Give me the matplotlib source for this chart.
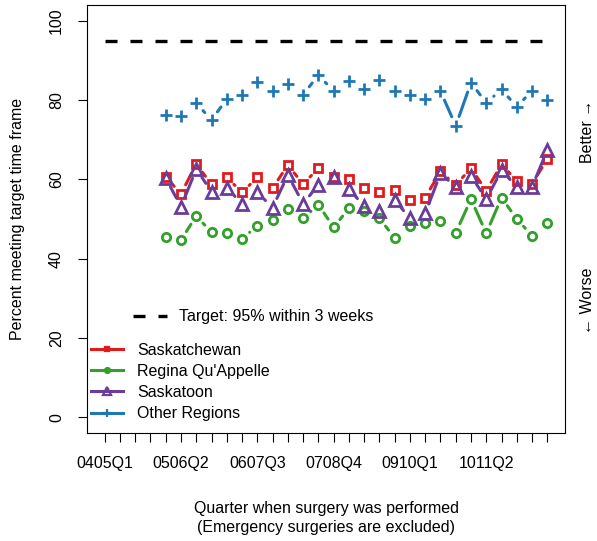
import matplotlib
matplotlib.use('Agg')
import matplotlib.pyplot as plt
import numpy as np
from matplotlib.lines import Line2D

plt.rcParams['font.family'] = ['Liberation Sans', 'DejaVu Sans']

quarters = ['0405Q1', '0405Q2', '0405Q3', '0405Q4', '0506Q1', '0506Q2',
            '0506Q3', '0506Q4', '0607Q1', '0607Q2', '0607Q3', '0607Q4',
            '0708Q1', '0708Q2', '0708Q3', '0708Q4', '0809Q1', '0809Q2',
            '0809Q3', '0809Q4', '0910Q1', '0910Q2', '0910Q3', '0910Q4',
            '1011Q1', '1011Q2', '1011Q3', '1011Q4', '1112Q1', '1112Q2']

# series start at 0506Q1
sask = [60.5, 56.4, 63.8, 58.8, 60.5, 56.7, 60.5, 57.8, 63.6, 58.8, 62.8, 60.5, 60.0,
        57.8, 56.9, 57.3, 54.8, 55.4, 62.0, 58.6, 62.8, 57.1, 63.8, 59.6, 58.9, 65.1]
regina = [45.5, 44.7, 50.8, 46.6, 46.4, 45.0, 48.3, 49.7, 52.5, 50.2, 53.6, 47.9, 52.7,
          52.1, 50.2, 45.2, 48.3, 48.9, 49.4, 46.5, 55.0, 46.4, 55.4, 50.0, 45.8, 48.9]
saskatoon = [60.3, 53.1, 62.6, 56.9, 57.8, 53.9, 56.7, 52.9, 61.1, 53.9, 58.6, 60.5, 57.5,
             53.3, 52.1, 54.8, 50.2, 51.4, 61.5, 58.1, 60.9, 55.0, 62.3, 58.1, 58.1, 67.4]
other = [76.2, 76.0, 79.2, 75.0, 80.3, 81.4, 84.6, 82.3, 84.1, 81.4, 86.3, 82.3, 84.8,
         82.9, 85.2, 82.4, 81.2, 80.4, 82.3, 73.5, 84.4, 79.3, 82.7, 78.3, 82.4, 80.1]
target = 95

series = [('Saskatchewan', sask, '#E31A1C', 's', 6.0),
          ("Regina Qu'Appelle", regina, '#33A02C', 'o', 6.0),
          ('Saskatoon', saskatoon, '#6A3D9A', '^', 8.5),
          ('Other Regions', other, '#1F78B4', '+', 9.0)]

n = len(quarters)
first = n - len(sask) + 1
x = np.arange(first, n + 1)

fig = plt.figure(figsize=(5.97, 5.41), dpi=100)
ax = fig.add_axes([87 / 597, 1 - 433 / 541, 478 / 597, 428 / 541])
ax.set_xlim(1 - 0.04 * (n - 1), n + 0.04 * (n - 1))
ax.set_ylim(-4, 104)


def draw_b(ax, x, y, color, marker, ms, gap=10.0):
    # points joined by lines that stop short of each marker
    pts = ax.transData.transform(np.column_stack([x, y]))
    inv = ax.transData.inverted()
    for p, q in zip(pts[:-1], pts[1:]):
        d = q - p
        L = np.hypot(*d)
        if L <= 2 * gap:
            continue
        u = d / L
        a, b = inv.transform([p + u * gap, q - u * gap])
        ax.plot([a[0], b[0]], [a[1], b[1]], color=color, lw=2.2,
                solid_capstyle='round')
    ax.plot(x, y, ls='none', marker=marker, ms=ms, mfc='none', mec=color, mew=2.0)


ax.plot([1, n], [target, target], color='black', lw=2.4, dashes=(3.6, 3.9),
        dash_capstyle='butt')

for name, vals, col, mk, ms in series:
    draw_b(ax, x, vals, col, mk, ms)

ax.set_yticks(range(0, 101, 20))
ax.set_xticks(range(1, n + 1))
ax.set_xticklabels([q if i % 5 == 0 else '' for i, q in enumerate(quarters)])
ax.tick_params(axis='both', length=6.5, width=0.8, labelsize=11.5)
ax.tick_params(axis='x', pad=10)
ax.tick_params(axis='y', labelrotation=90, pad=10)
for t in ax.get_yticklabels():
    t.set_va('center')
for s in ax.spines.values():
    s.set_linewidth(0.8)

ax.set_ylabel('Percent meeting target time frame', fontsize=11.5, labelpad=17)
ax.set_xlabel('Quarter when surgery was performed\n(Emergency surgeries are excluded)',
              fontsize=11.5, labelpad=22, linespacing=1.3)

fig.text(588 / 597, 1 - 131 / 541, 'Better \u2192', rotation=90, ha='center',
         va='center', fontsize=11.5)
fig.text(588 / 597, 1 - 301 / 541, '\u2190 Worse', rotation=90, ha='center',
         va='center', fontsize=11.5)

h1 = [Line2D([], [], color='black', lw=2.4, dashes=(3.6, 3.9), dash_capstyle='butt')]
leg1 = ax.legend(h1, ['Target: 95% within 3 weeks'], loc='center left',
                 bbox_to_anchor=((133 - 87) / 478, (433 - 317) / 428),
                 frameon=False, fontsize=11.5, handlelength=2.1,
                 handletextpad=0.8, borderpad=0, borderaxespad=0)
ax.add_artist(leg1)

h2 = [Line2D([], [], color=col, lw=2.2, marker=mk, ms=ms * 0.6, mfc='none',
             mec=col, mew=1.6) for _, _, col, mk, ms in series]
ax.legend(h2, [s[0] for s in series], loc='center left',
          bbox_to_anchor=((91 - 87) / 478, (433 - 382) / 428),
          frameon=False, fontsize=11.5, handlelength=2.0, handletextpad=0.9,
          labelspacing=0.38, borderpad=0, borderaxespad=0)

fig.savefig('out.png', dpi=100)
